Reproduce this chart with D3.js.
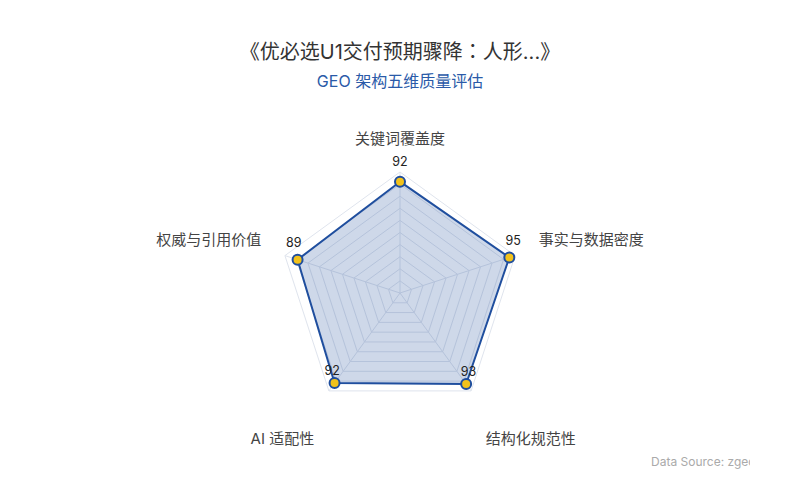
<!DOCTYPE html>
<html>
<head>
<meta charset="utf-8">
<script src="https://cdn.jsdelivr.net/npm/d3@7/dist/d3.min.js"></script>
<style>
  html, body { margin: 0; padding: 0; background: #fff; }
  svg { display: block; font-family: Inter, "Noto Sans CJK SC", sans-serif; }
</style>
</head>
<body>
<svg id="chart" width="800" height="500"></svg>
<script>
const titleParts = ['《优必选U1交付预期骤降', '：', '人形...》'];
const subtitleText = 'GEO 架构五维质量评估';
const sourceText = 'Data Source: zgeo.cn';

const indicators = ['关键词覆盖度', '事实与数据密度', '结构化规范性', 'AI 适配性', '权威与引用价值'];
const scores = [92, 95, 93, 92, 89];
const maxScore = 100;
const ringLevels = d3.range(1, 11).map(d => d * maxScore / 10);

const svg = d3.select('#chart'),
    width = +svg.attr('width'),
    cx = width / 2,
    cy = 293,
    radius = 121;

const r = d3.scaleLinear().domain([0, maxScore]).range([0, radius]);
const angle = d3.scalePoint().domain(d3.range(indicators.length + 1)).range([0, 2 * Math.PI]);

// title block (the colon is set in a font that centres it, like the original)
svg.append('text')
    .attr('x', cx).attr('y', 59)
    .attr('text-anchor', 'middle')
    .attr('font-size', 20)
    .attr('fill', '#333')
    .selectAll('tspan')
    .data(titleParts)
    .enter()
    .append('tspan')
    .attr('font-family', (d, i) => i === 1 ? '"Noto Sans CJK JP"' : null)
    .text(d => d);

svg.append('text')
    .attr('x', cx).attr('y', 87)
    .attr('text-anchor', 'middle')
    .attr('font-size', 16)
    .attr('fill', '#2a5aa8')
    .text(subtitleText);

const g = svg.append('g').attr('transform', `translate(${cx},${cy})`);

const ring = d3.lineRadial()
    .angle((d, i) => angle(i))
    .radius(d => r(d))
    .curve(d3.curveLinearClosed);

// grid rings
g.append('g')
    .selectAll('path')
    .data(ringLevels)
    .enter()
    .append('path')
    .attr('d', lv => ring(indicators.map(() => lv)))
    .attr('fill', 'none')
    .attr('stroke', '#dfe4ed')
    .attr('stroke-width', 1);

// spokes
g.append('g')
    .selectAll('line')
    .data(indicators)
    .enter()
    .append('line')
    .attr('x1', 0).attr('y1', 0)
    .attr('x2', (d, i) => r(maxScore) * Math.sin(angle(i)))
    .attr('y2', (d, i) => -r(maxScore) * Math.cos(angle(i)))
    .attr('stroke', '#dfe4ed')
    .attr('stroke-width', 1);

// data area
g.append('path')
    .attr('d', ring(scores))
    .attr('fill', 'rgba(31,78,156,0.22)')
    .attr('stroke', '#1f4e9e')
    .attr('stroke-width', 2)
    .attr('stroke-linejoin', 'round');

const px = (v, i) => r(v) * Math.sin(angle(i));
const py = (v, i) => -r(v) * Math.cos(angle(i));

g.append('g')
    .selectAll('circle')
    .data(scores)
    .enter()
    .append('circle')
    .attr('cx', px)
    .attr('cy', py)
    .attr('r', 5)
    .attr('fill', '#f2c21b')
    .attr('stroke', '#1f4e9e')
    .attr('stroke-width', 2);

// value labels, nudged outward then lifted
g.append('g')
    .selectAll('text')
    .data(scores)
    .enter()
    .append('text')
    .attr('x', (d, i) => px(d, i) + 4 * Math.sin(angle(i)))
    .attr('y', (d, i) => py(d, i) - 4 * Math.cos(angle(i)) - 15)
    .attr('text-anchor', 'middle')
    .attr('dominant-baseline', 'middle')
    .attr('font-size', 12.5)
    .attr('fill', '#222')
    .text(d => d);

// indicator names
const nameR = radius + 25;
g.append('g')
    .selectAll('text')
    .data(indicators)
    .enter()
    .append('text')
    .attr('x', (d, i) => nameR * Math.sin(angle(i)))
    .attr('y', (d, i) => {
        const c = Math.cos(angle(i));
        const y = -nameR * c;
        return c < 0 ? y + 29 : y - 7;
    })
    .attr('text-anchor', (d, i) => {
        const s = Math.sin(angle(i));
        return Math.abs(s) < 0.01 ? 'middle' : (s > 0 ? 'start' : 'end');
    })
    .attr('dominant-baseline', 'middle')
    .attr('font-size', 15)
    .attr('fill', '#444')
    .text(d => d);

// source note, clipped at the right
svg.append('clipPath').attr('id', 'srcClip')
    .append('rect').attr('x', 600).attr('y', 440).attr('width', 150).attr('height', 40);

svg.append('text')
    .attr('clip-path', 'url(#srcClip)')
    .attr('x', 651).attr('y', 466)
    .attr('font-size', 12)
    .attr('fill', '#aaa')
    .text(sourceText);
</script>
</body>
</html>
